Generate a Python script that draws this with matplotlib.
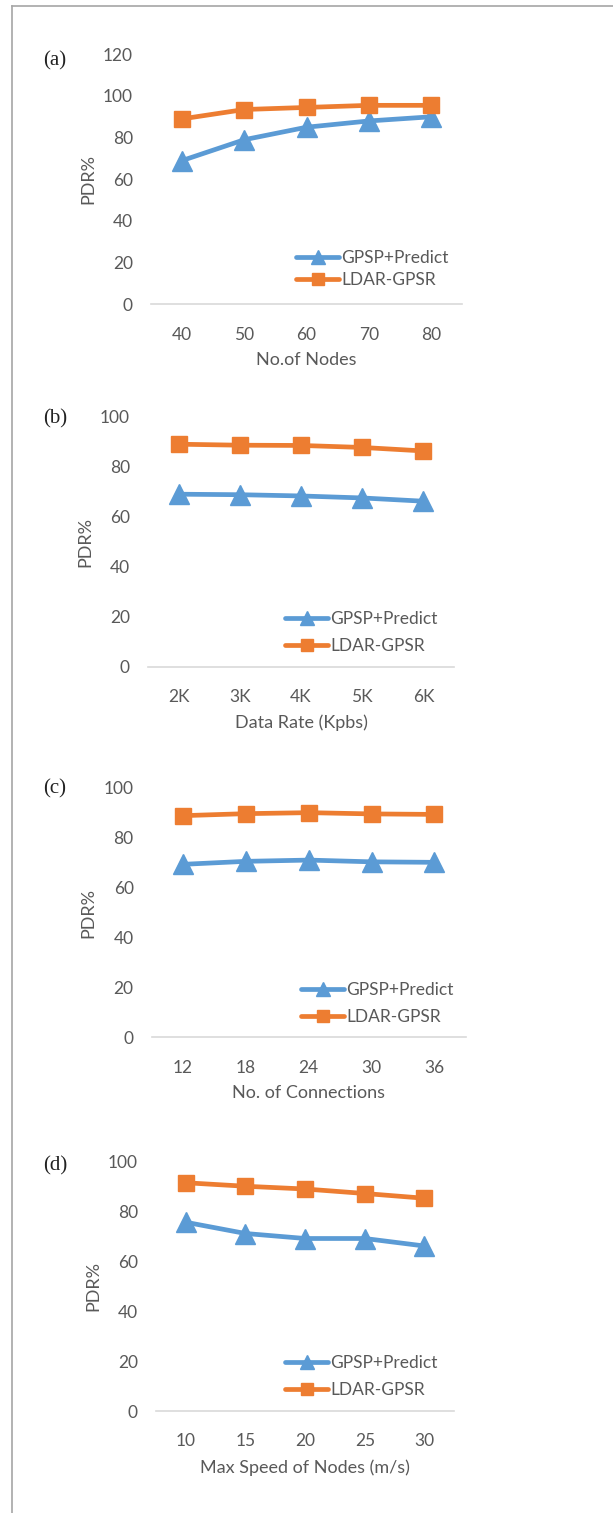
import matplotlib
matplotlib.use("Agg")
import matplotlib.pyplot as plt
from matplotlib.lines import Line2D

# PDR results for the four experiments
nodes = ["40", "50", "60", "70", "80"]
gpsp_nodes = [69, 79, 85, 88, 90]
ldar_nodes = [89, 93.5, 94.5, 95.5, 95.5]

rates = ["2K", "3K", "4K", "5K", "6K"]
gpsp_rates = [69, 68.8, 68.3, 67.5, 66.2]
ldar_rates = [89, 88.6, 88.5, 87.7, 86.3]

connections = ["12", "18", "24", "30", "36"]
gpsp_conn = [69.3, 70.5, 71, 70.3, 70.1]
ldar_conn = [88.8, 89.6, 90, 89.5, 89.3]

speeds = ["10", "15", "20", "25", "30"]
gpsp_speed = [75.5, 71, 69, 69, 66]
ldar_speed = [91.3, 89.9, 88.8, 87, 85.1]

W, H = 613, 1513
BLUE = "#5B9BD5"
ORANGE = "#ED7D31"
GRAY = "#595959"

plt.rcParams["font.family"] = ["Lato", "DejaVu Sans"]

fig = plt.figure(figsize=(W / 100, H / 100), dpi=100)

# page frame
fig.add_artist(Line2D([12 / W, 1], [1 - 6 / H, 1 - 6 / H], color="#a6a6a6", lw=1.2))
fig.add_artist(Line2D([12 / W, 12 / W], [0, 1 - 6 / H], color="#a6a6a6", lw=1.2))


def box(x0, x1, ytop, ybot):
    return [x0 / W, 1 - ybot / H, (x1 - x0) / W, (ybot - ytop) / H]


panels = [
    ("(a)", nodes, gpsp_nodes, ldar_nodes, "No.of Nodes", 120,
     box(151, 462, 54.3, 304.3), 61, (0.466, 0.142), 0.35),
    ("(b)", rates, gpsp_rates, ldar_rates, "Data Rate (Kpbs)", 100,
     box(148, 454, 416.7, 666.7), 419, (0.448, 0.137), 0.65),
    ("(c)", connections, gpsp_conn, ldar_conn, "No. of Connections", 100,
     box(151.7, 465.7, 787.7, 1037.3), 789, (0.475, 0.135), 0.65),
    ("(d)", speeds, gpsp_speed, ldar_speed, "Max Speed of Nodes (m/s)", 100,
     box(156, 454.3, 1161, 1411), 1166, (0.432, 0.138), 0.65),
]

for tag, cats, gpsp, ldar, xlabel, ymax, rect, tag_y, leg_pos, spacing in panels:
    ax = fig.add_axes(rect)
    x = range(len(cats))
    ax.plot(x, gpsp, color=BLUE, lw=3.4, marker="^", markersize=15,
            label="GPSP+Predict", solid_capstyle="round")
    ax.plot(x, ldar, color=ORANGE, lw=3.4, marker="s", markersize=12,
            label="LDAR-GPSR", solid_capstyle="round")

    ax.set_xlim(-0.5, len(cats) - 0.5)
    ax.set_ylim(0, ymax)
    ax.set_yticks(range(0, ymax + 1, 20))
    ax.set_xticks(list(x))
    ax.set_xticklabels(cats)
    ax.tick_params(length=0, labelsize=12.5, colors=GRAY)
    ax.tick_params(axis="x", pad=16)
    ax.tick_params(axis="y", pad=13)
    for side in ["top", "left", "right"]:
        ax.spines[side].set_visible(False)
    ax.spines["bottom"].set_color("#d9d9d9")
    ax.spines["bottom"].set_linewidth(1.2)
    ax.set_xlabel(xlabel, fontsize=13, color=GRAY, labelpad=7)
    ax.set_ylabel("PDR%", fontsize=13, color=GRAY, labelpad=5)

    leg = ax.legend(loc="center left", bbox_to_anchor=leg_pos, frameon=False,
                    fontsize=12.5, handlelength=2.5, handletextpad=0.1,
                    borderpad=0, borderaxespad=0, labelspacing=spacing,
                    markerscale=0.7)
    for t in leg.get_texts():
        t.set_color(GRAY)

    fig.text(43 / W, 1 - tag_y / H, tag, fontsize=15, va="center",
             family=["Liberation Serif", "DejaVu Serif"], color="#222222")

fig.savefig("out.png", dpi=100)
